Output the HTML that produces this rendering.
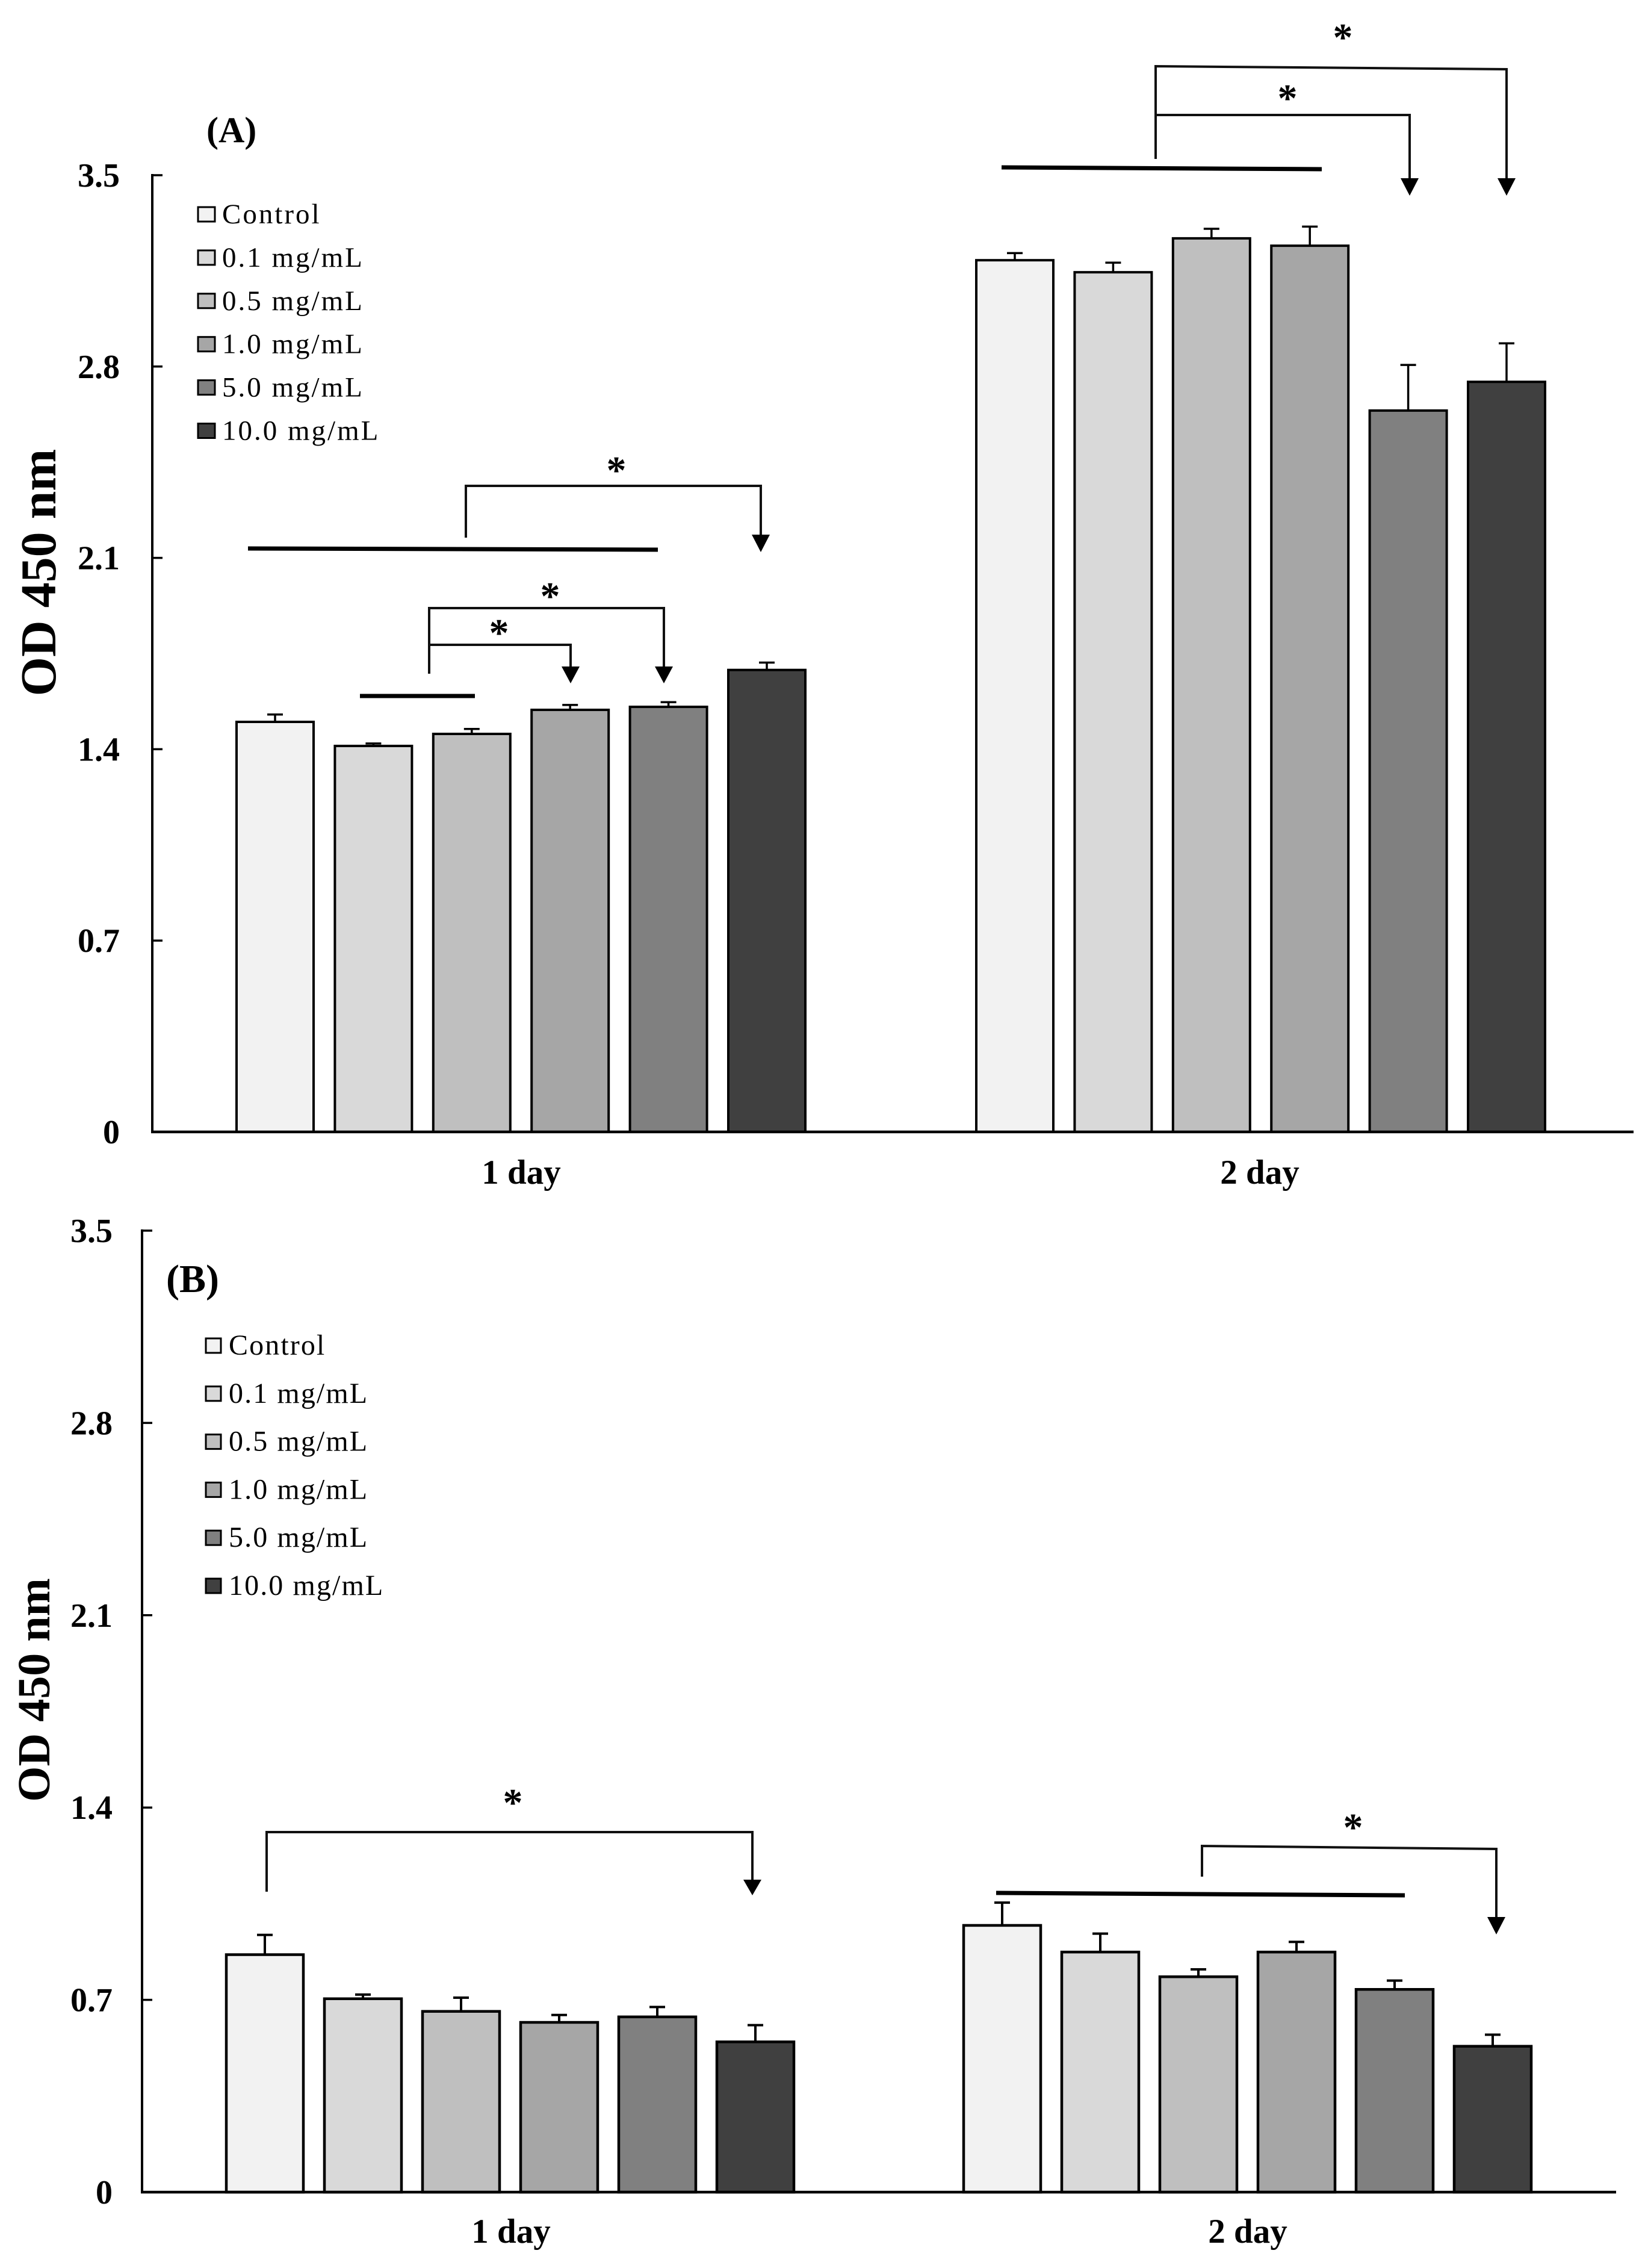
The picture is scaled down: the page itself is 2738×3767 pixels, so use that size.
<!DOCTYPE html>
<html lang="en">
<head>
<meta charset="utf-8">
<title>OD 450 nm bar charts</title>
<style>
html,body{margin:0;padding:0;background:#fff;}
svg{display:block;font-family:"Liberation Serif",serif;}
.tick-label{font-size:56px;font-weight:bold;text-anchor:end;}
.legend-label{font-size:47px;letter-spacing:3px;}
.legend-label-b{font-size:48px;letter-spacing:2.1px;}
.day-label{font-size:57px;font-weight:bold;text-anchor:middle;}
.star{font-size:66px;font-weight:bold;text-anchor:middle;}
.thin{stroke:#111;stroke-width:4;fill:none;}
.thick{stroke:#000;stroke-width:7;fill:none;}
</style>
</head>
<body>
<svg id="chart" xmlns="http://www.w3.org/2000/svg" width="2738" height="3767" viewBox="0 0 2738 3767">
  <rect x="0" y="0" width="2738" height="3767" fill="#fff"/>
  <g id="panel-a"></g>
  <g id="panel-b"></g>

  <g>
    <text x="343" y="236" font-size="60" font-weight="bold">(A)</text>
    <text transform="translate(92,951) rotate(-90)" font-size="84" font-weight="bold" text-anchor="middle">OD 450 nm</text>

    <path class="thin" d="M774 893 V807 H1264 V895"/>
    <polygon points="1249,888 1279,888 1264,917"/>
    <line class="thick" x1="412" y1="911" x2="1093" y2="913"/>
    <text class="star" x="1024" y="803">*</text>

    <path class="thin" d="M713 1119 V1010 H1103 V1110"/>
    <polygon points="1088,1107 1118,1107 1103,1135"/>
    <path class="thin" d="M713 1071 H948 V1110"/>
    <polygon points="933,1107 963,1107 948,1135"/>
    <line class="thick" x1="598" y1="1156" x2="789" y2="1156"/>
    <text class="star" x="914" y="1012">*</text>
    <text class="star" x="829" y="1073">*</text>

    <path class="thin" d="M1920 264 V110 L2503 115 V300"/>
    <polygon points="2488,296 2518,296 2503,325"/>
    <path class="thin" d="M1920 191 H2342 V300"/>
    <polygon points="2327,296 2357,296 2342,325"/>
    <line class="thick" x1="1664" y1="278" x2="2196" y2="281"/>
    <text class="star" x="2231" y="84">*</text>
    <text class="star" x="2139" y="185">*</text>
  </g>

  <g>
    <text x="276" y="2146" font-size="66" font-weight="bold">(B)</text>
    <text transform="translate(82,2807) rotate(-90)" font-size="76" font-weight="bold" text-anchor="middle">OD 450 nm</text>

    <path class="thin" d="M443 3142 V3043 H1250 V3125"/>
    <polygon points="1235,3122 1265,3122 1250,3148"/>
    <text class="star" x="852" y="3016">*</text>

    <path class="thin" d="M1997 3117 V3066 L2486 3071 V3188"/>
    <polygon points="2471,3184 2501,3184 2486,3213"/>
    <line class="thick" x1="1655" y1="3144" x2="2334" y2="3148"/>
    <text class="star" x="2248" y="3057">*</text>
  </g>
</svg>
<script>
const days = ['1 day', '2 day'];
const seriesNames = ['Control', '0.1 mg/mL', '0.5 mg/mL', '1.0 mg/mL', '5.0 mg/mL', '10.0 mg/mL'];
const seriesColors = ['#f2f2f2', '#d9d9d9', '#bfbfbf', '#a6a6a6', '#808080', '#404040'];
const tickLabels = ['0', '0.7', '1.4', '2.1', '2.8', '3.5'];

const panelADay1 = [1.50, 1.412, 1.456, 1.544, 1.555, 1.69];
const panelADay1Err = [0.027, 0.009, 0.018, 0.018, 0.017, 0.027];
const panelADay2 = [3.189, 3.145, 3.269, 3.242, 2.639, 2.744];
const panelADay2Err = [0.026, 0.035, 0.035, 0.07, 0.167, 0.141];

const panelBDay1 = [0.8645, 0.704, 0.658, 0.618, 0.638, 0.547];
const panelBDay1Err = [0.072, 0.015, 0.05, 0.027, 0.036, 0.061];
const panelBDay2 = [0.971, 0.874, 0.784, 0.874, 0.738, 0.531];
const panelBDay2Err = [0.083, 0.067, 0.027, 0.037, 0.032, 0.042];

const NS = 'http://www.w3.org/2000/svg';

function make(parent, tag, attrs, text) {
  const el = document.createElementNS(NS, tag);
  for (const k in attrs) el.setAttribute(k, attrs[k]);
  if (text !== undefined) el.textContent = text;
  parent.appendChild(el);
  return el;
}

function slug(s) {
  return s.toLowerCase().replace(/[^a-z0-9]+/g, '-');
}

function drawPanel(root, prefix, geo, values, errors) {
  const yScale = v => geo.y0 - (v / 3.5) * (geo.y0 - geo.yTop);
  const xScale = (d, s) => geo.x0 + d * geo.groupStep + s * geo.barStep;

  // bars and error bars
  days.forEach((day, d) => {
    values[d].forEach((v, s) => {
      const cx = xScale(d, s);
      const topY = yScale(v);
      const capY = yScale(v + errors[d][s]);
      const stem = make(root, 'line', {x1: cx, x2: cx, y1: topY, y2: capY, stroke: '#000', 'stroke-width': geo.errW});
      
      
      const cap = make(root, 'line', {x1: cx - 13, x2: cx + 13, y1: capY, y2: capY, stroke: '#000', 'stroke-width': geo.errW});
      
      
      const bar = make(root, 'rect', {x: cx - geo.barW / 2, y: topY, width: geo.barW, height: geo.y0 - topY, fill: seriesColors[s], stroke: '#000', 'stroke-width': geo.barStroke});
      
      
    });
    const label = make(root, 'text', {x: geo.dayX[d], y: geo.dayY, class: 'day-label'}, day);
    
    
  });

  // axes
  const yAxis = make(root, 'line', {x1: geo.axisX, x2: geo.axisX, y1: geo.yTop - 2, y2: geo.y0 + 2, stroke: '#000', 'stroke-width': 4});
  
  
  const xAxis = make(root, 'line', {x1: geo.axisX - 2, x2: geo.axisEnd, y1: geo.y0, y2: geo.y0, stroke: '#000', 'stroke-width': 4.5});
  
  

  tickLabels.forEach(t => {
    const y = yScale(parseFloat(t));
    if (parseFloat(t) > 0) {
      const tick = make(root, 'line', {x1: geo.axisX, x2: geo.axisX + 17, y1: y, y2: y, stroke: '#000', 'stroke-width': 3.5});
      
      
    }
    const lab = make(root, 'text', {x: geo.tickRight, y: y + 19, class: 'tick-label'}, t);
    
    
  });

  // legend
  seriesNames.forEach((name, s) => {
    const cy = geo.legendY + s * geo.legendStep;
    const sw = make(root, 'rect', {x: geo.legendX, y: cy - 12, width: geo.swatch, height: 24, fill: seriesColors[s], stroke: '#000', 'stroke-width': 3});
    
    
    const tx = make(root, 'text', {x: geo.legendTextX, y: cy + 15, class: geo.legendClass}, name);
    
    
  });
}

drawPanel(document.getElementById('panel-a'), 'a', {
  y0: 1880, yTop: 291, axisX: 253, axisEnd: 2714, tickRight: 199,
  x0: 457, barStep: 163.4, groupStep: 1229, barW: 128, barStroke: 4, errW: 3.5,
  dayX: [866, 2093], dayY: 1966,
  legendX: 329, legendTextX: 369, legendY: 356, legendStep: 71.9, swatch: 28, legendClass: 'legend-label'
}, [panelADay1, panelADay2], [panelADay1Err, panelADay2Err]);

drawPanel(document.getElementById('panel-b'), 'b', {
  y0: 3641, yTop: 2044, axisX: 236, axisEnd: 2685, tickRight: 187,
  x0: 440, barStep: 163, groupStep: 1225, barW: 128, barStroke: 4.5, errW: 4,
  dayX: [849, 2073], dayY: 3725,
  legendX: 342, legendTextX: 380, legendY: 2235, legendStep: 79.8, swatch: 25, legendClass: 'legend-label-b'
}, [panelBDay1, panelBDay2], [panelBDay1Err, panelBDay2Err]);
</script>
</body>
</html>
